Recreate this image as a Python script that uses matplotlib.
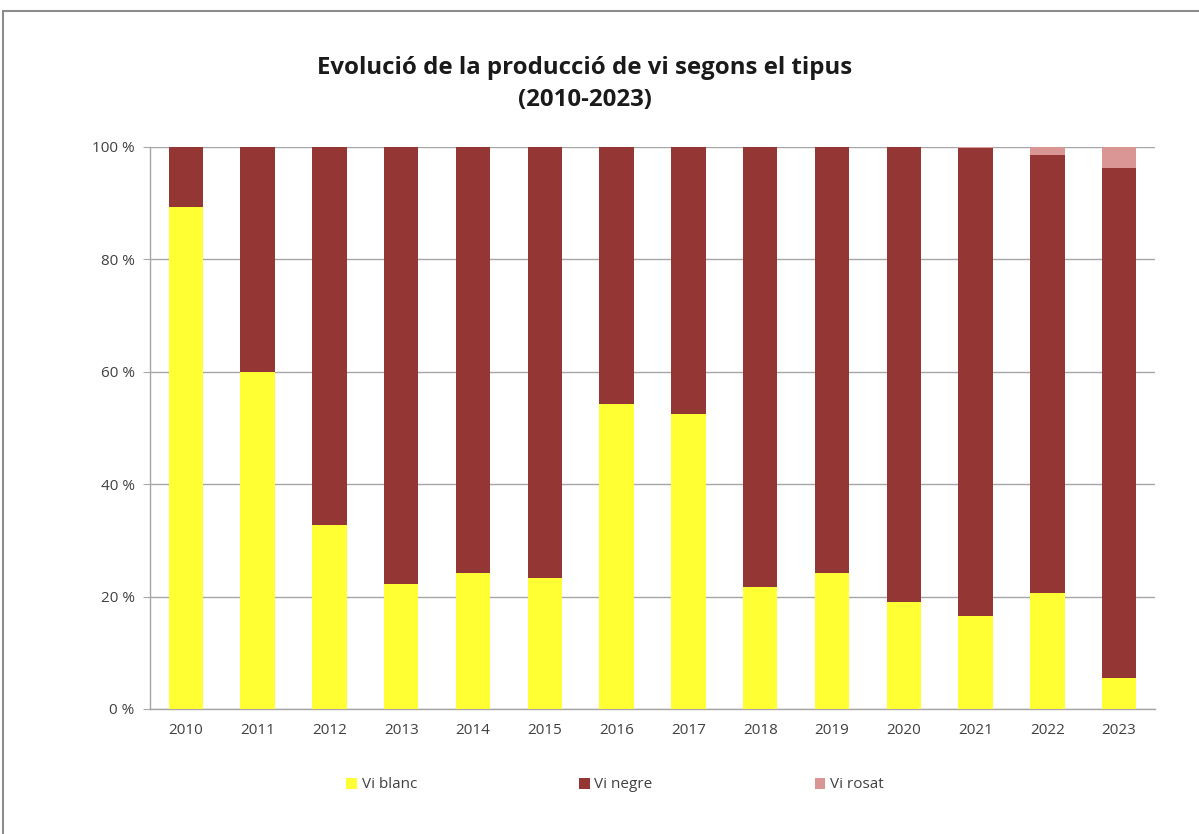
import matplotlib
matplotlib.use("Agg")
import matplotlib.pyplot as plt
from matplotlib.patches import Rectangle
import numpy as np

plt.rcParams["font.family"] = ["Open Sans", "DejaVu Sans"]

years = ["2010", "2011", "2012", "2013", "2014", "2015", "2016",
         "2017", "2018", "2019", "2020", "2021", "2022", "2023"]
vi_blanc = [89.3, 60.0, 32.7, 22.2, 24.2, 23.3, 54.3, 52.5, 21.7, 24.2, 19.0, 16.5, 20.6, 5.5]
vi_rosat = [0.0, 0.0, 0.0, 0.0, 0.0, 0.0, 0.0, 0.0, 0.0, 0.0, 0.0, 0.2, 1.5, 3.8]
vi_negre = [100 - b - r for b, r in zip(vi_blanc, vi_rosat)]

COLORS = {"Vi blanc": "#FFFF33", "Vi negre": "#943634", "Vi rosat": "#DA9694"}

fig = plt.figure(figsize=(11.99, 8.34), dpi=100)
fig.patches.append(Rectangle((3 / 1199, -0.01), 1.1, (834 - 11) / 834 + 0.01,
                             transform=fig.transFigure, fill=False,
                             edgecolor="#8c8c8c", linewidth=1.5))
ax = fig.add_axes([150 / 1199, 125 / 834, 1005 / 1199, 562 / 834])

x = np.arange(len(years))
w = 0.48
ax.bar(x, vi_blanc, w, color=COLORS["Vi blanc"], label="Vi blanc", zorder=3)
ax.bar(x, vi_negre, w, bottom=vi_blanc, color=COLORS["Vi negre"], label="Vi negre", zorder=3)
bottoms = [b + n for b, n in zip(vi_blanc, vi_negre)]
ax.bar(x, vi_rosat, w, bottom=bottoms, color=COLORS["Vi rosat"], label="Vi rosat", zorder=3)

ax.set_xlim(-0.5, len(years) - 0.5)
ax.set_ylim(0, 100)
ax.set_yticks(range(0, 101, 20))
ax.set_yticklabels([f"{v} %" for v in range(0, 101, 20)])
ax.set_xticks(x)
ax.set_xticklabels(years)
ax.grid(axis="y", color="#a6a6a6", linewidth=1, zorder=0)
for s in ["top", "right"]:
    ax.spines[s].set_visible(False)
for s in ["left", "bottom"]:
    ax.spines[s].set_color("#a6a6a6")
    ax.spines[s].set_linewidth(1)
ax.tick_params(axis="y", length=5, color="#a6a6a6", labelsize=11, labelcolor="#404040", pad=6)
ax.tick_params(axis="x", length=0, labelsize=11, labelcolor="#404040", pad=10)

title_kw = dict(ha="center", va="center", fontsize=17.3, fontweight="bold", color="#1a1a1a")
fig.text(585 / 1199, 1 - 68 / 834, "Evolució de la producció de vi segons el tipus", **title_kw)
fig.text(585 / 1199, 1 - 100 / 834, "(2010-2023)", **title_kw)

fig.legend(loc="center", bbox_to_anchor=(615 / 1199, 1 - 785 / 834), ncol=3,
           frameon=False, fontsize=11, handlelength=0.7, handleheight=0.7,
           handletextpad=0.3, columnspacing=10.6, labelcolor="#404040")

fig.savefig("out.png", dpi=100)
